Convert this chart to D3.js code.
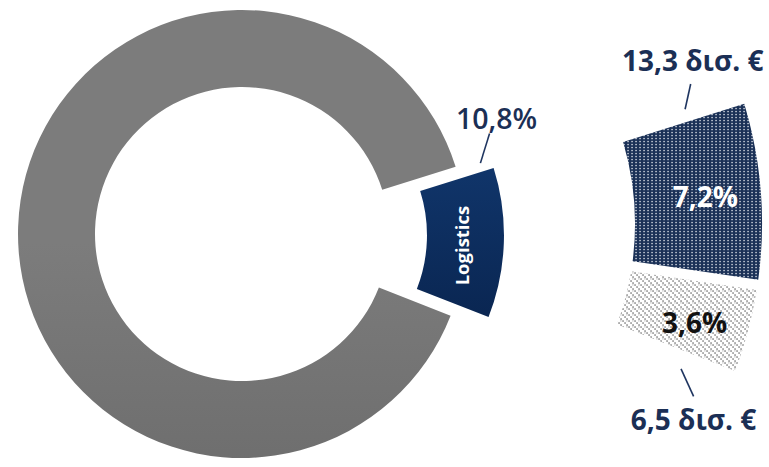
<!DOCTYPE html>
<html><head><meta charset="utf-8">
<script src="https://cdn.jsdelivr.net/npm/d3@7"></script>
<style>html,body{margin:0;padding:0;background:#fff}svg{display:block}</style>
</head><body><svg id="c" width="769" height="467"></svg>
<script>
// ---- data ----
const mainCategories = ["Logistics", "Λοιποί κλάδοι"];
const mainShares = [10.8, 89.2];
const mainShareLabels = ["10,8%", ""];
const subCategories = ["Logistics A", "Logistics B"];
const subShares = [7.2, 3.6];
const subShareLabels = ["7,2%", "3,6%"];
const subValueLabels = ["13,3 δισ. €", "6,5 δισ. €"];

const deg = Math.PI / 180;
const svg = d3.select("#c");
const defs = svg.append("defs");

// gradients / patterns
const gGray = defs.append("linearGradient").attr("id","gGray").attr("gradientUnits","userSpaceOnUse")
  .attr("x1",0).attr("y1",9).attr("x2",0).attr("y2",460);
gGray.append("stop").attr("offset",0).attr("stop-color","#7c7c7c");
gGray.append("stop").attr("offset",1).attr("stop-color","#606060");
const gNavy = defs.append("linearGradient").attr("id","gNavy").attr("x1",0).attr("y1",0).attr("x2",0).attr("y2",1);
gNavy.append("stop").attr("offset",0).attr("stop-color","#10356a");
gNavy.append("stop").attr("offset",1).attr("stop-color","#0a2652");

const pD = defs.append("pattern").attr("id","pDark").attr("patternUnits","userSpaceOnUse").attr("width",4).attr("height",3);
pD.append("rect").attr("width",4).attr("height",3).attr("fill","#1b3157");
pD.append("rect").attr("x",1.4).attr("y",0.9).attr("width",1.3).attr("height",1.3).attr("fill","#e8ecf2");
const pL = defs.append("pattern").attr("id","pLight").attr("patternUnits","userSpaceOnUse").attr("width",6).attr("height",6);
pL.append("rect").attr("width",6).attr("height",6).attr("fill","#fff");
[[0.4,0.4],[2.4,2.4],[4.4,4.4]].forEach(p=>pL.append("rect").attr("x",p[0]).attr("y",p[1]).attr("width",1.3).attr("height",1.3).attr("fill","#555"));
pL.append("rect").attr("x",4.4).attr("y",0.4).attr("width",1).attr("height",1).attr("fill","#999");

// ---- main donut ----
const start = 72.5 * deg;
const mainData = mainCategories.map((c,i)=>({cat:c, v:mainShares[i], label:mainShareLabels[i]}));
const pie = d3.pie().sort(null).value(d=>d.v).startAngle(start).endAngle(start + 2*Math.PI);
const mainArcs = pie(mainData);
const cx = 242, cy = 234, rIn = 147, rOut = 224, explode = 38;
const arcMain = d3.arc().innerRadius(rIn).outerRadius(rOut);
const polar = (c, r, a) => [c[0] + r*Math.sin(a), c[1] - r*Math.cos(a)];

const gMain = svg.append("g");
mainArcs.forEach((a,i)=>{
  const mid = (a.startAngle + a.endAngle)/2;
  const off = i === 0 ? explode : 0;
  const c = [cx + off*Math.sin(mid), cy - off*Math.cos(mid)];
  const g = gMain.append("g").attr("transform",`translate(${c[0]},${c[1]})`);
  g.append("path").attr("d", arcMain(a)).attr("fill", i===0 ? "url(#gNavy)" : "url(#gGray)");
  if (i === 0) {
    const cen = arcMain.centroid(a);
    g.append("text").attr("transform",`translate(${cen[0]-4},${cen[1]+4}) rotate(-90)`)
      .attr("text-anchor","middle").attr("dominant-baseline","central")
      .attr("font-family","Open Sans").attr("font-weight",700).attr("font-size",18.5)
      .attr("fill","#fff").text(a.data.cat);
    // leader + share label
    const p1 = polar([0,0], 213, a.startAngle - 2.3*deg);
    const p2 = polar([0,0], 233, a.startAngle - 8.4*deg);
    g.append("line").attr("x1",p1[0]).attr("y1",p1[1]).attr("x2",p2[0]).attr("y2",p2[1])
      .attr("stroke","#1f3560").attr("stroke-width",1.6);
    g.append("text").attr("x",p2[0]+7).attr("y",p2[1]-5).attr("text-anchor","middle")
      .attr("font-family","Open Sans").attr("font-weight",600).attr("font-size",28.5)
      .attr("fill","#1b2f55").text(a.data.label);
  }
});

// ---- secondary arc bar ----
const sc = [346, 224], sIn = 289, sOut = 416;
const total = d3.sum(subShares);
const angle = d3.scaleLinear().domain([0, total]).range([start, start + (total/100)*2*Math.PI]);
const cum = d3.cumsum(subShares);
const subArcs = subShares.map((v,i)=>({v, startAngle: angle(cum[i]-v), endAngle: angle(cum[i]), i}));
const arcSub = d3.arc().innerRadius(sIn).outerRadius(sOut).padAngle(0.034).padRadius(300);
const gSub = svg.append("g").attr("transform",`translate(${sc[0]},${sc[1]})`);
gSub.selectAll("path").data(subArcs).join("path").attr("d", arcSub)
  .attr("fill", d=> d.i===0 ? "url(#pDark)" : "url(#pLight)");
gSub.selectAll("text.share").data(subArcs).join("text").attr("class","share")
  .attr("transform", d=>{const c = arcSub.centroid(d); return `translate(${c[0]+8},${c[1]+(d.i===0?0:7)})`;})
  .attr("text-anchor","middle").attr("dominant-baseline","central")
  .attr("font-family","Open Sans").attr("font-weight",700).attr("font-size",28)
  .attr("fill", d=> d.i===0 ? "#fff" : "#111")
  .attr("stroke", d=> d.i===0 ? "#1b3157" : "none").attr("stroke-width",0.6).attr("paint-order","stroke")
  .text(d=>subShareLabels[d.i]);

// value leaders & labels
subArcs.forEach(d=>{
  const top = d.i === 0;
  const a1 = top ? d.startAngle - 1.2*deg : d.endAngle + 2*deg;
  const a2 = top ? d.startAngle - 4.6*deg : d.endAngle + 5*deg;
  const p1 = polar([0,0], top ? 358 : 365, a1);
  const p2 = polar([0,0], top ? 372 : 388, a2);
  gSub.append("line").attr("x1",p1[0]).attr("y1",p1[1]).attr("x2",p2[0]).attr("y2",p2[1])
    .attr("stroke","#1f3560").attr("stroke-width",1.6);
  gSub.append("text").attr("x", p2[0] + (top?2:0)).attr("y", top ? p2[1]-13 : p2[1]+34)
    .attr("text-anchor","middle")
    .attr("font-family","Open Sans").attr("font-weight",700).attr("font-size",28)
    .attr("fill","#1b2f55").text(subValueLabels[d.i]);
});
</script></body></html>
